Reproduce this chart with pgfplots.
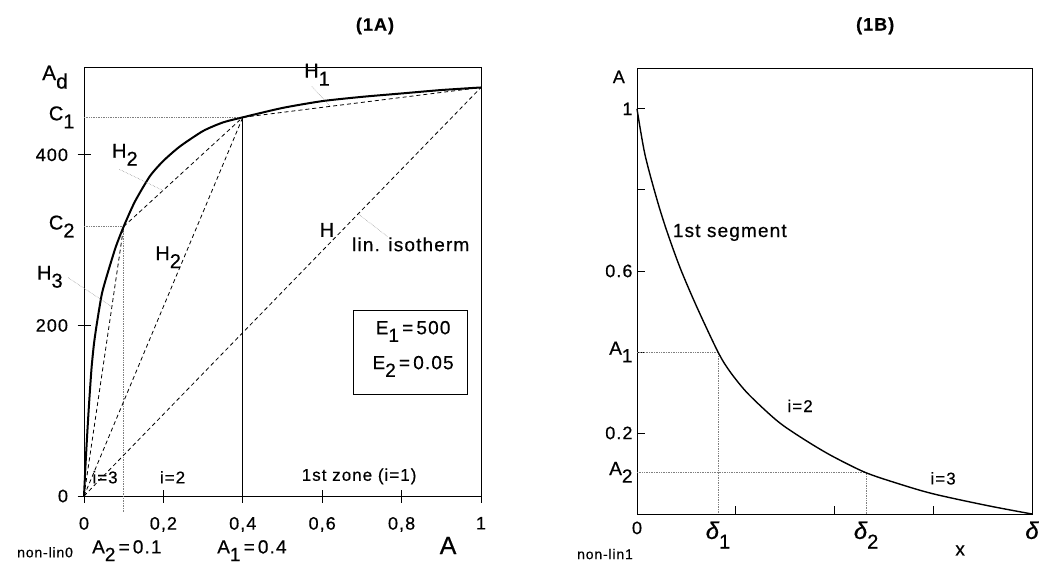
\documentclass[border=0pt]{standalone}
\usepackage{fontspec}
\setmainfont{Liberation Sans}[LetterSpace=6,FakeBold=0.5]
\usepackage{pgfplots}
\pgfplotsset{compat=1.18}
\newcommand{\sub}[1]{\raisebox{-0.4em}{#1}}
\newcommand{\fs}[1]{\fontsize{#1}{#1}\selectfont}
\tikzset{
  leader/.style={gray,line width=0.5pt,densely dotted},
  chord/.style={black,line width=0.8pt,dash pattern=on 4pt off 3pt},
  guide/.style={gray,line width=0.7pt,densely dotted},
}

\begin{document}
\begin{tikzpicture}
\path[use as bounding box] (0pt,0pt) rectangle (1040pt,566pt);

% ---------------- (1A) isotherm ----------------
\begin{axis}[
  at={(84pt,70pt)}, anchor=south west, scale only axis,
  width=397pt, height=429pt,
  xmin=0, xmax=1, ymin=0, ymax=503,
  clip=false,
  axis line style={line width=0.9pt},
  xtick={0,0.2,0.4,0.6,0.8,1},
  xticklabels={0,{0,2},{0,4},{0,6},{0,8},1},
  ytick={0,200,400}, yticklabels={0,200,400},
  extra y ticks={316,444},
  extra y tick labels={\fs{20}C\sub{2}\hspace{5pt},\fs{20}C\sub{1}\hspace{8pt}},
  extra tick style={major tick length=0pt},
  tick align=center, major tick length=13pt,
  xtick pos=bottom, ytick pos=left,
  tick style={black,line width=0.9pt},
  ticklabel style={font=\fs{18}},
  xticklabel style={yshift=-11pt},
  yticklabel style={xshift=-6pt},
]
% guides
\addplot[guide] coordinates {(0,316) (0.1,316) (0.1,-19)};
\addplot[guide] coordinates {(0,444) (0.4,444)};
\addplot[black,line width=0.8pt] coordinates {(0.4,444) (0.4,0)};
% chords
\addplot[chord] coordinates {(0.4,444) (1,479)};
\addplot[chord] coordinates {(0.1,316) (0.4,444)};
\addplot[chord] coordinates {(0,0) (0.4,444)};
\addplot[chord] coordinates {(0,0) (0.1,316)};
\addplot[chord] coordinates {(0,0) (1,479)};
% isotherm
\addplot[black,line width=2pt,smooth,tension=0.4] coordinates {
  (0,0) (0.004,38) (0.0084,75) (0.013,110) (0.019,150) (0.025,178)
  (0.032,201) (0.045,237) (0.06,262) (0.08,292) (0.1,316) (0.128,345)
  (0.166,375) (0.2,393) (0.242,410) (0.3,428) (0.35,438) (0.4,444)
  (0.5,455) (0.6,463) (0.7,468) (0.8,472) (0.9,476) (1,479)
};
% labels
\node[font=\fs{20}] at (axis cs:0.587,494) {H\sub{1}};
\draw[leader] (axis cs:0.574,480) -- (axis cs:0.62,457);
\node[font=\fs{20}] at (axis cs:0.103,400) {H\sub{2}};
\draw[leader] (axis cs:0.089,383) -- (axis cs:0.2,358);
\node[font=\fs{20}] at (axis cs:0.212,280) {H\sub{2}};
\node[font=\fs{20}] at (axis cs:0.612,312) {H};
\draw[leader] (axis cs:0.69,331) -- (axis cs:0.765,304);
\node[font=\fs{19}] at (axis cs:0.823,295) {lin. isotherm};
\node[font=\fs{20}] at (axis cs:-0.086,257) {H\sub{3}};
\draw[leader] (axis cs:-0.04,256) -- (axis cs:0.07,222);
\draw[black,line width=0.9pt] (axis cs:0.678,218) rectangle (axis cs:0.967,119);
\node[font=\fs{19}] at (axis cs:0.829,193) {E\sub{1}\,=\,500};
\node[font=\fs{19}] at (axis cs:0.829,152) {E\sub{2}\,=\,0.05};
\node[font=\fs{17}] at (axis cs:0.053,22) {i=3};
\node[font=\fs{17}] at (axis cs:0.223,22) {i=2};
\node[font=\fs{17}] at (axis cs:0.693,23) {1st zone (i=1)};
\node[font=\fs{14}] at (axis cs:-0.098,-66) {non-lin0};
\node[font=\fs{19}] at (axis cs:0.108,-64) {A\sub{2}\,=\,0.1};
\node[font=\fs{19}] at (axis cs:0.423,-64) {A\sub{1}\,=\,0.4};
\node[font=\fs{25}] at (axis cs:0.917,-58) {A};
\node[font=\fs{21}] at (axis cs:-0.073,491) {A\sub{d}};
\node[font=\bfseries\fs{18}] at (axis cs:0.733,551) {(1A)};
\end{axis}

% ---------------- (1B) profile ----------------
\begin{axis}[
  at={(637pt,52pt)}, anchor=south west, scale only axis,
  width=395pt, height=446pt,
  xmin=0, xmax=1, ymin=0, ymax=1.101,
  clip=false,
  axis line style={line width=0.9pt},
  xtick={0.25,0.5,0.75}, xticklabels={},
  extra x ticks={0,0.205,0.58,1},
  extra x tick labels={0,{\itshape\fs{24}δ\sub{\upshape\fs{20}1}},{\itshape\fs{24}δ\sub{\upshape\fs{20}2}},{\itshape\fs{24}δ}},
  ytick={0.2,0.4,0.6,0.8,1}, yticklabels={0.2,\fs{19}A\sub{1},0.6,{},1},
  extra y ticks={0.103}, extra y tick labels={\fs{19}A\sub{2}},
  extra tick style={major tick length=0pt},
  tick align=inside, major tick length=8pt,
  xtick pos=bottom, ytick pos=left,
  tick style={black,line width=0.9pt},
  ticklabel style={font=\fs{18}},
  xticklabel style={yshift=-4pt},
  yticklabel style={xshift=-1pt},
]
\addplot[guide] coordinates {(0,0.40) (0.205,0.40) (0.205,0)};
\addplot[guide] coordinates {(0,0.103) (0.58,0.103) (0.58,0)};
\addplot[black,line width=1.4pt,smooth,tension=0.5] coordinates {
  (0,1) (0.02,0.888) (0.05,0.778) (0.075,0.700) (0.109,0.608)
  (0.151,0.512) (0.205,0.400) (0.235,0.352) (0.278,0.300) (0.337,0.245)
  (0.375,0.215) (0.438,0.175) (0.496,0.142) (0.577,0.103) (0.658,0.076)
  (0.749,0.050) (0.886,0.021) (1,0)
};
\node[font=\fs{18}] at (axis cs:-0.046,1.079) {A};
\node[font=\fs{19},anchor=west] at (axis cs:0.082,0.695) {1st segment};
\node[font=\fs{17}] at (axis cs:0.413,0.267) {i=2};
\node[font=\fs{17}] at (axis cs:0.775,0.088) {i=3};
\node[font=\fs{19}] at (axis cs:0.818,-0.09) {x};
\node[font=\fs{14}] at (axis cs:-0.081,-0.099) {non-lin1};
\node[font=\bfseries\fs{18}] at (axis cs:0.603,1.205) {(1B)};
\end{axis}
\end{tikzpicture}
\end{document}
